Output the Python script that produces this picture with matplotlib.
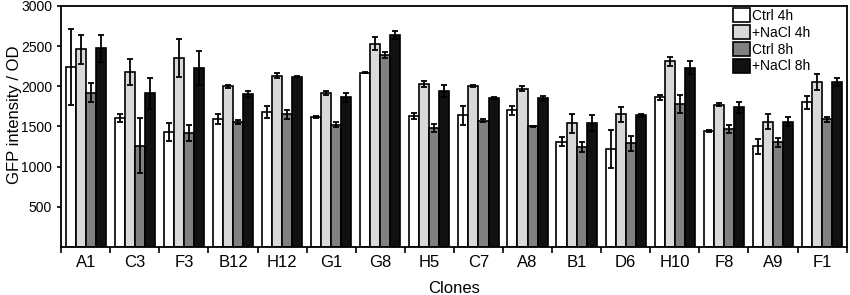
import numpy as np
import matplotlib
matplotlib.use('Agg')
import matplotlib.pyplot as plt

plt.rcParams['font.family'] = ['Liberation Sans', 'DejaVu Sans']

clones = ['A1', 'C3', 'F3', 'B12', 'H12', 'G1', 'G8', 'H5', 'C7', 'A8', 'B1', 'D6', 'H10', 'F8', 'A9', 'F1']
series = ['Ctrl 4h', '+NaCl 4h', 'Ctrl 8h', '+NaCl 8h']

ctrl4 = [2240, 1600, 1430, 1590, 1680, 1620, 2170, 1630, 1640, 1700, 1310, 1220, 1860, 1440, 1250, 1800]
ctrl4_err = [470, 50, 110, 60, 70, 10, 5, 40, 120, 60, 60, 240, 30, 10, 90, 80]
nacl4 = [2460, 2180, 2350, 2000, 2130, 1910, 2530, 2030, 2000, 1970, 1540, 1650, 2310, 1770, 1560, 2050]
nacl4_err = [180, 160, 240, 20, 30, 25, 80, 40, 10, 30, 120, 90, 60, 20, 90, 100]
ctrl8 = [1920, 1260, 1420, 1550, 1650, 1520, 2390, 1480, 1570, 1500, 1240, 1290, 1780, 1470, 1300, 1590]
ctrl8_err = [120, 340, 100, 25, 60, 30, 40, 50, 20, 10, 60, 90, 110, 50, 60, 30]
nacl8 = [2470, 1910, 2230, 1900, 2120, 1860, 2640, 1940, 1850, 1850, 1540, 1640, 2230, 1740, 1560, 2050]
nacl8_err = [170, 190, 210, 40, 10, 60, 50, 70, 10, 30, 100, 20, 80, 70, 60, 50]

values = [ctrl4, nacl4, ctrl8, nacl8]
errors = [ctrl4_err, nacl4_err, ctrl8_err, nacl8_err]
colors = ['white', '#d9d9d9', '#808080', '#111111']

fig = plt.figure(figsize=(8.5, 2.95), dpi=100)
ax = fig.add_axes([0.072, 0.163, 0.924, 0.817])

x = np.arange(len(clones))
w = 0.205
for i in range(4):
    ax.bar(x + (i - 1.5) * w, values[i], w, color=colors[i], edgecolor='black',
           linewidth=1.2, label=series[i], zorder=2)
    ax.errorbar(x + (i - 1.5) * w, values[i], yerr=errors[i], fmt='none',
                ecolor='black', elinewidth=1.3, capsize=2.2, capthick=1.3, zorder=3)

ax.set_xlim(-0.5, len(clones) - 0.5)
ax.set_ylim(0, 3000)
ax.set_yticks([500, 1000, 1500, 2000, 2500, 3000])
ax.set_xticks(x)
ax.set_xticklabels(clones, fontsize=12)
ax.set_xticks(np.arange(-0.5, len(clones), 1), minor=True)
ax.tick_params(axis='x', which='major', length=0, pad=6)
ax.tick_params(axis='x', which='minor', length=4, width=1.2, direction='out')
ax.tick_params(axis='y', labelsize=10, length=3, width=1.2, direction='out')
for s in ax.spines.values():
    s.set_linewidth(1.3)

ax.set_xlabel('Clones', fontsize=12, labelpad=8)
ax.set_ylabel('GFP intensity / OD', fontsize=12)
ax.yaxis.set_label_coords(-0.05, 0.55)

ax.legend(loc='upper left', bbox_to_anchor=(733 / 850, 1 - 8 / 295), bbox_transform=fig.transFigure,
          frameon=False, fontsize=10, handlelength=1.2, handleheight=1.2,
          handletextpad=0.2, labelspacing=0.15, borderaxespad=0, borderpad=0)

fig.savefig('out.png', dpi=100)
